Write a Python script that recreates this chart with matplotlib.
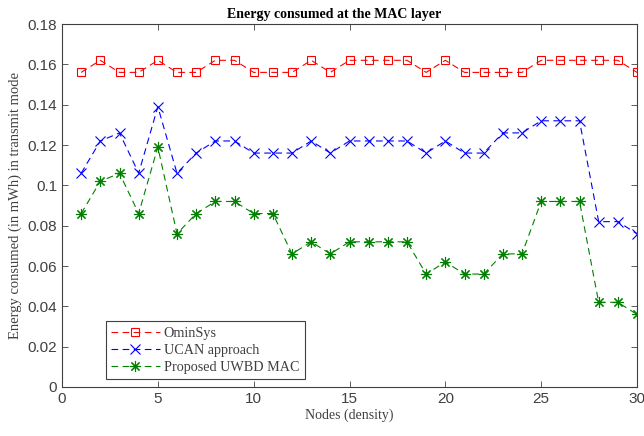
import numpy as np
import matplotlib
matplotlib.use("Agg")
import matplotlib.pyplot as plt

nodes = list(range(1, 31))

ominsys = [0.156, 0.162, 0.156, 0.156, 0.162, 0.156, 0.156, 0.162, 0.162, 0.156,
           0.156, 0.156, 0.162, 0.156, 0.162, 0.162, 0.162, 0.162, 0.156, 0.162,
           0.156, 0.156, 0.156, 0.156, 0.162, 0.162, 0.162, 0.162, 0.162, 0.156]

ucan = [0.106, 0.122, 0.126, 0.106, 0.139, 0.106, 0.116, 0.122, 0.122, 0.116,
        0.116, 0.116, 0.122, 0.116, 0.122, 0.122, 0.122, 0.122, 0.116, 0.122,
        0.116, 0.116, 0.126, 0.126, 0.132, 0.132, 0.132, 0.082, 0.082, 0.076]

uwbd = [0.086, 0.102, 0.106, 0.086, 0.119, 0.076, 0.086, 0.092, 0.092, 0.086,
        0.086, 0.066, 0.072, 0.066, 0.072, 0.072, 0.072, 0.072, 0.056, 0.062,
        0.056, 0.056, 0.066, 0.066, 0.092, 0.092, 0.092, 0.042, 0.042, 0.036]

serif = 'Liberation Serif'
sans = 'Liberation Sans'

fig = plt.figure(figsize=(6.44, 4.36), dpi=100)
ax = fig.add_axes([62/644, 1 - 387/436, 575/644, 363/436])

ax.plot(nodes, ominsys, color='red', linestyle='--', dashes=(6, 4), linewidth=0.8,
        marker='s', markersize=5.5, markerfacecolor='none', markeredgewidth=0.8, label='OminSys')
ax.plot(nodes, ucan, color='blue', linestyle='--', dashes=(6, 4), linewidth=0.8,
        marker='x', markersize=6.5, markeredgewidth=0.8, label='UCAN approach')
ax.plot(nodes, uwbd, color='green', linestyle='--', dashes=(6, 4), linewidth=0.8,
        marker=(8, 2, 0), markersize=8, markeredgewidth=0.8, label='Proposed UWBD MAC')

ax.set_xlim(0, 30)
ax.set_ylim(0, 0.18)
ax.set_xticks(np.arange(0, 31, 5))
ax.set_yticks(np.arange(0, 0.181, 0.02))
ax.set_yticklabels(['0', '0.02', '0.04', '0.06', '0.08', '0.1', '0.12', '0.14', '0.16', '0.18'])

ax.tick_params(direction='in', top=True, right=True, length=4, width=0.6,
               color='#404040', labelsize=11, labelcolor='#404040')
for lab in ax.get_xticklabels() + ax.get_yticklabels():
    lab.set_fontfamily(sans)
for s in ax.spines.values():
    s.set_color('#404040')
    s.set_linewidth(0.8)

ax.set_title('Energy consumed at the MAC layer', fontfamily=serif, fontweight='bold',
             fontsize=10, pad=4, x=(334 - 62) / 575)
ax.set_xlabel('Nodes (density)', fontfamily=serif, fontsize=10, color='#404040', labelpad=2)
ax.set_ylabel('Energy consumed (in mWh) in transmit mode', fontfamily=serif, fontsize=10.5,
              color='#404040', labelpad=4)

leg = ax.legend(loc='lower left', bbox_to_anchor=(44/575, 8/363), borderaxespad=0,
                prop={'family': serif, 'size': 10.2},
                fancybox=False, edgecolor='#404040', framealpha=1, borderpad=0.38,
                labelspacing=0.28, handlelength=3.4, handletextpad=0.3)
leg.get_frame().set_linewidth(0.8)
for t in leg.get_texts():
    t.set_color('#404040')

fig.savefig('out.png', dpi=100)
